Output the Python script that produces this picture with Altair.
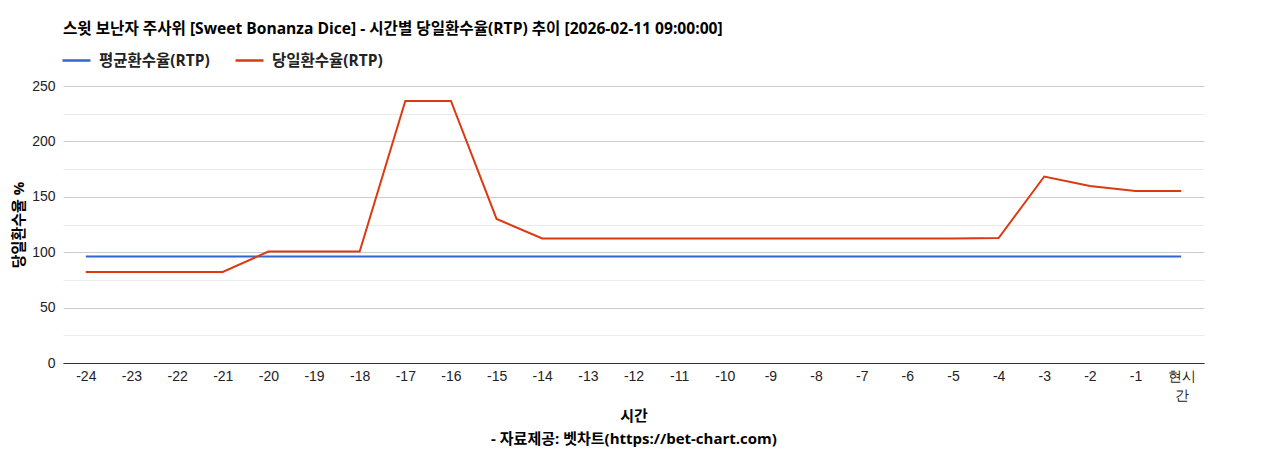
import altair as alt
import pandas as pd

hours = [str(h) for h in range(-24, 0)] + ["현시간"]
daily_rtp = [82.1, 82.1, 82.1, 82.1, 100.6, 100.6, 100.6, 236.5, 236.5, 130.0,
             112.4, 112.4, 112.4, 112.4, 112.4, 112.4, 112.4, 112.4, 112.4, 112.4,
             112.8, 168.3, 159.7, 155.2, 155.2]
avg_rtp = [96.1] * 25

series_avg = "평균환수율(RTP)"
series_daily = "당일환수율(RTP)"

rows = []
for h, a, d in zip(hours, avg_rtp, daily_rtp):
    rows.append({"hour": h, "series": series_avg, "value": a})
    rows.append({"hour": h, "series": series_daily, "value": d})
df = pd.DataFrame(rows)

KR = "Open Sans, Noto Sans CJK KR"
NUM = "Liberation Sans"

chart = alt.Chart(df).mark_line(strokeWidth=2).encode(
    x=alt.X("hour:N", sort=hours, scale=alt.Scale(paddingInner=0, paddingOuter=0.5),
            axis=alt.Axis(title=["시간", "- 자료제공: 벳차트(https://bet-chart.com)"],
                          titleFont=KR, titleFontSize=15, titleFontWeight="bold",
                          titleColor="#000", titlePadding=6, titleLineHeight=23,
                          labelAngle=0, labelFont=NUM, labelFontSize=14, labelColor="#222",
                          labelExpr="datum.label == '현시간' ? ['현시', '간'] : datum.label",
                          labelLineHeight=19, labelPadding=6,
                          ticks=False, domainColor="#333", domainWidth=1, grid=False)),
    y=alt.Y("value:Q", scale=alt.Scale(domain=[0, 250], nice=False),
            axis=alt.Axis(title="당일환수율 %", titleFont=KR, titleFontSize=15,
                          titleFontWeight="bold", titleColor="#000", titlePadding=5,
                          values=[0, 25, 50, 75, 100, 125, 150, 175, 200, 225, 250],
                          labelExpr="datum.value % 50 == 0 ? datum.label : ''",
                          labelFont=NUM, labelFontSize=14, labelColor="#222", labelPadding=8,
                          ticks=False, domain=False,
                          gridColor=alt.condition("datum.value % 50 == 0",
                                                  alt.value("#cccccc"), alt.value("#ebebeb")))),
    color=alt.Color("series:N", sort=[series_avg, series_daily],
                    scale=alt.Scale(domain=[series_avg, series_daily], range=["#3366cc", "#dc3912"]),
                    legend=alt.Legend(title=None, orient="none", legendX=-2, legendY=-41,
                                      direction="horizontal", symbolType="stroke",
                                      symbolSize=784, symbolStrokeWidth=2.5,
                                      labelFont=KR, labelFontSize=15.5, labelFontWeight="bold",
                                      labelColor="#222", columnPadding=20, labelOffset=7)),
    order=alt.Order("series:N"),
).properties(
    width=1141,
    height=277,
    title=alt.TitleParams("스윗 보난자 주사위 [Sweet Bonanza Dice] - 시간별 당일환수율(RTP) 추이 [2026-02-11 09:00:00]",
                          anchor="start", frame="group", font=KR, fontSize=15.6,
                          fontWeight="bold", color="#000", offset=7),
    autosize=alt.AutoSizeParams(type="none"),
    padding={"left": 55, "top": 78, "right": 50, "bottom": 90},
).configure_view(stroke=None)

chart.save("out.html", embed_options={"renderer": "svg", "actions": False})
